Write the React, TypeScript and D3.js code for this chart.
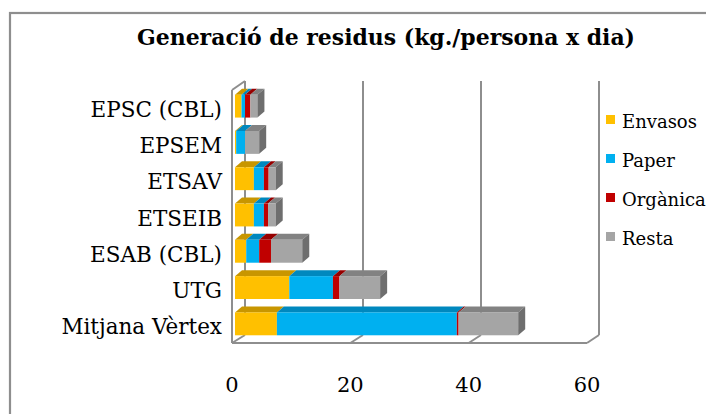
import React from 'react';
import * as d3 from 'd3';

const categories = ['EPSC (CBL)', 'EPSEM', 'ETSAV', 'ETSEIB', 'ESAB (CBL)', 'UTG', 'Mitjana Vèrtex'];
const seriesNames = ['Envasos', 'Paper', 'Orgànica', 'Resta'];
const envasos = [1.1, 0.2, 3.2, 3.2, 1.9, 9.2, 7.1];
const paper = [0.6, 1.5, 1.7, 1.7, 2.2, 7.4, 30.5];
const organica = [0.9, 0, 0.8, 0.7, 2.0, 1.1, 0.3];
const resta = [1.2, 2.4, 1.2, 1.3, 5.3, 6.9, 10.1];
const xTicks = [0, 20, 40, 60];

const colors = ['#FFC000', '#00B0F0', '#C00000', '#A5A5A5'];
const topColors = ['#C89600', '#0088BE', '#960000', '#828282'];

const W = 706;
const H = 414;
const FONT = '"DejaVu Serif", serif';

const App: React.FC = () => {
  const series = [envasos, paper, organica, resta];
  const stack = categories.map((c, i) => {
    let acc = 0;
    return series.map((s, k) => {
      const x0 = acc;
      acc += s[i];
      return { key: seriesNames[k], k, x0, x1: acc };
    });
  });

  // back wall and front floor scales
  const xBack = d3.scaleLinear().domain([0, 60]).range([245, 599]);
  const xFront = d3.scaleLinear().domain([0, 60]).range([232, 587]);
  const xBar = d3.scaleLinear().domain([0, 60]).range([235, 589]);
  const y = d3.scaleBand<string>().domain(categories).range([81, 335])
    .paddingInner(0.37).paddingOuter(0.185);
  const yTop = 81, yBot = 335, yFrontTop = 90, yFrontBot = 343;
  const shiftY = 7; // bar front face offset
  const dx = 7, dy = -6; // bar depth
  const wall = '#8E8E8E';

  return (
    <svg width={W} height={H} style={{ position: 'absolute', left: 0, top: 0, background: '#fff' }}>
      <rect x={10} y={13} width={720} height={420} fill="#fff" stroke={wall} strokeWidth={2.2} />
      <text x={386} y={45} textAnchor="middle" fontFamily={FONT} fontWeight="bold" fontSize={22}
        textLength={498} lengthAdjust="spacingAndGlyphs">Generació de residus (kg./persona x dia)</text>

      {/* walls */}
      <g stroke={wall} strokeWidth={2} fill="none">
        <line x1={xFront(0)} x2={xFront(0)} y1={yFrontTop} y2={yFrontBot} />
        <line x1={xFront(0)} x2={xBack(0)} y1={yFrontTop} y2={yTop} />
        {xTicks.map(t => (
          <line key={'g' + t} x1={xBack(t)} x2={xBack(t)} y1={yTop} y2={yBot} />
        ))}
        {xTicks.map(t => (
          <line key={'d' + t} x1={xFront(t)} x2={xBack(t)} y1={yFrontBot} y2={yBot} />
        ))}
        <line x1={xFront(0)} x2={xFront(60)} y1={yFrontBot} y2={yFrontBot} />
      </g>

      {/* bars */}
      {categories.map((c, i) => {
        const yf = (y(c) as number) + shiftY;
        const h = y.bandwidth();
        const segs = stack[i].filter(s => s.x1 > s.x0);
        const last = segs[segs.length - 1];
        return (
          <g key={c}>
            {segs.map(s => {
              const a = xBar(s.x0), b = xBar(s.x1);
              return (
                <g key={s.key}>
                  <polygon points={`${a},${yf} ${b},${yf} ${b + dx},${yf + dy} ${a + dx},${yf + dy}`} fill={topColors[s.k]} />
                  <rect x={a} y={yf} width={b - a} height={h} fill={colors[s.k]} />
                </g>
              );
            })}
            <polygon points={`${xBar(last.x1)},${yf} ${xBar(last.x1) + dx},${yf + dy} ${xBar(last.x1) + dx},${yf + dy + h} ${xBar(last.x1)},${yf + h}`} fill="#6E6E6E" />
            <text x={222} y={yf + h / 2 + 3} textAnchor="end" dominantBaseline="central"
              fontFamily={FONT} fontSize={21.5} fill="#000">{c}</text>
          </g>
        );
      })}

      {/* x tick labels */}
      {xTicks.map(t => (
        <text key={'t' + t} x={xFront(t)} y={392} textAnchor="middle" fontFamily={FONT} fontSize={21}>{t}</text>
      ))}

      {/* legend */}
      {seriesNames.map((n, k) => (
        <g key={n} transform={`translate(606, ${120 + k * 39})`}>
          <rect x={0} y={-5} width={9} height={9} fill={colors[k]} />
          <text x={16} y={1} dominantBaseline="central" fontFamily={FONT} fontSize={18}>{n}</text>
        </g>
      ))}
    </svg>
  );
};

export default App;
